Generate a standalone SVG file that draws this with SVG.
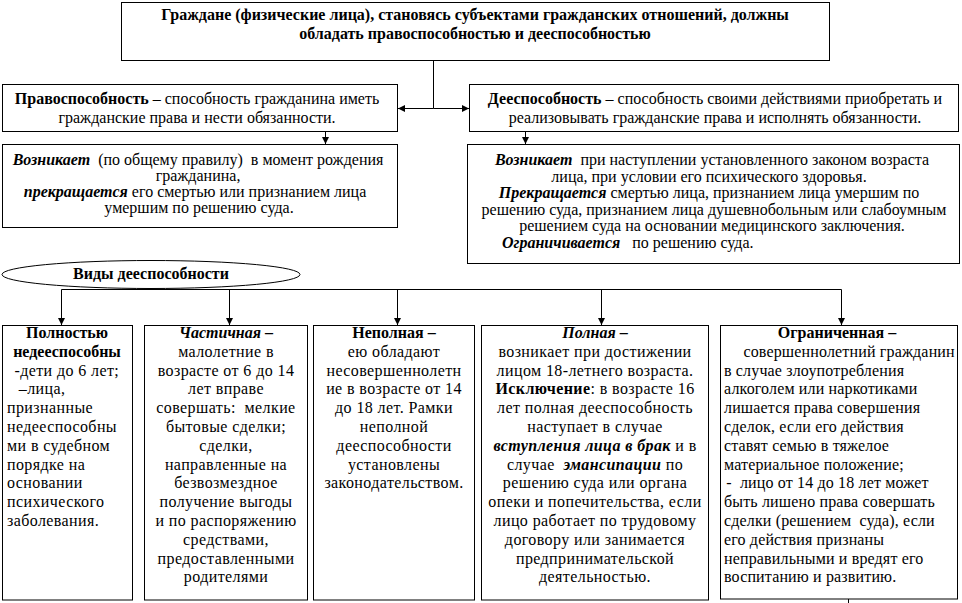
<svg xmlns="http://www.w3.org/2000/svg" width="962" height="603" viewBox="0 0 962 603" xml:space="preserve">
<style>
.box{fill:#fff;stroke:#000;stroke-width:1}
.t{font-family:"Liberation Serif","Times New Roman",serif;font-size:16px;fill:#000;white-space:pre}
.b{font-weight:bold}
.bi{font-weight:bold;font-style:italic}
.c{text-anchor:middle}
.s{letter-spacing:0.4px}
.s2{letter-spacing:0.15px}
.ln{fill:none;stroke:#000;stroke-width:1}
</style>
<defs>
<marker id="ar" markerUnits="userSpaceOnUse" markerWidth="8" markerHeight="8" refX="7" refY="4" orient="auto"><path d="M0,0.5 L7,4 L0,7.5 z" fill="#000"/></marker>
</defs>
<rect width="962" height="603" fill="#fff"/>
<g id="connectors">
<path class="ln" d="M433.5,60.5 V108.5"/>
<path class="ln" d="M433.5,108.5 H398" marker-end="url(#ar)"/>
<path class="ln" d="M433.5,108.5 H469" marker-end="url(#ar)"/>
<path class="ln" d="M325.5,132 V144" marker-end="url(#ar)"/>
<path class="ln" d="M525.5,132 V144" marker-end="url(#ar)"/>
<path class="ln" d="M61.5,289.5 H841.5"/>
<path class="ln" d="M61.5,289.5 V325" marker-end="url(#ar)"/>
<path class="ln" d="M229.5,289.5 V325" marker-end="url(#ar)"/>
<path class="ln" d="M397.5,289.5 V325" marker-end="url(#ar)"/>
<path class="ln" d="M601.5,289.5 V325" marker-end="url(#ar)"/>
<path class="ln" d="M841.5,289.5 V325" marker-end="url(#ar)"/>
<path class="ln" d="M848.5,599 V603"/>
</g>
<g id="title">
<rect class="box" x="121.5" y="2.5" width="708" height="58"/>
<text class="t b c" x="475" y="20">Граждане (физические лица), становясь субъектами гражданских отношений, должны</text>
<text class="t b c" x="475" y="39">обладать правоспособностью и дееспособностью</text>
</g>
<g id="pravosposobnost">
<rect class="box" x="2.5" y="84.5" width="395" height="47"/>
<text class="t c" x="197" y="104"><tspan class="b">Правоспособность</tspan> – способность гражданина иметь</text>
<text class="t c" x="197" y="123">гражданские права и нести обязанности.</text>
</g>
<g id="deesposobnost">
<rect class="box" x="469.5" y="84.5" width="489" height="47"/>
<text class="t c" x="715" y="104"><tspan class="b">Дееспособность</tspan> – способность своими действиями приобретать и</text>
<text class="t c" x="715" y="123">реализовывать гражданские права и исполнять обязанности.</text>
</g>
<g id="pravo-detail">
<rect class="box" x="2.5" y="144.5" width="395" height="83"/>
<text class="t c" x="198" y="165"><tspan class="bi">Возникает</tspan>  (по общему правилу)  в момент рождения</text>
<text class="t c" x="198" y="181">гражданина,</text>
<text class="t c" x="195" y="197"><tspan class="bi">прекращается</tspan> его смертью или признанием лица</text>
<text class="t c" x="199" y="213">умершим по решению суда.</text>
</g>
<g id="dee-detail">
<rect class="box" x="467.5" y="144.5" width="492" height="119"/>
<text class="t c" x="712" y="165"><tspan class="bi">Возникает</tspan>  при наступлении установленного законом возраста</text>
<text class="t c" x="709" y="181.5">лица, при условии его психического здоровья.</text>
<text class="t c" x="709" y="198"><tspan class="bi">Прекращается</tspan> смертью лица, признанием лица умершим по</text>
<text class="t c" x="714" y="214.5">решению суда, признанием лица душевнобольным или слабоумным</text>
<text class="t c" x="712" y="231">решением суда на основании медицинского заключения.</text>
<text class="t" x="490" y="247.5">   <tspan class="bi">Ограничивается</tspan>   по решению суда.</text>
</g>
<g id="vidy">
<ellipse class="box" cx="151" cy="274.5" rx="149" ry="14"/>
<text class="t b c" x="151" y="279">Виды дееспособности</text>
</g>
<g id="polnost-nedeesp">
<rect class="box" x="2.5" y="325.5" width="130" height="274.5"/>
<text class="t b c" x="67" y="338">Полностью</text>
<text class="t b c" x="67" y="357">недееспособны</text>
<text class="t s" x="10" y="376"> -дети до 6 лет;</text>
<text class="t s" x="10" y="394">  –лица,</text>
<text class="t s" x="7" y="413">признанные</text>
<text class="t s" x="7" y="432">недееспособны</text>
<text class="t s" x="7" y="451">ми в судебном</text>
<text class="t s" x="7" y="470">порядке на</text>
<text class="t s" x="7" y="488">основании</text>
<text class="t s" x="7" y="507">психического</text>
<text class="t s" x="7" y="526">заболевания.</text>
</g>
<g id="chastichnaya">
<rect class="box" x="144.5" y="325.5" width="163" height="274.5"/>
<text class="t c" x="226" y="338"><tspan class="bi">Частичная</tspan><tspan class="b"> –</tspan></text>
<text class="t s c" x="226" y="357">малолетние в</text>
<text class="t s c" x="226" y="376">возрасте от 6 до 14</text>
<text class="t s c" x="226" y="394">лет вправе</text>
<text class="t s c" x="226" y="413">совершать:  мелкие</text>
<text class="t s c" x="226" y="432">бытовые сделки;</text>
<text class="t s c" x="226" y="451">сделки,</text>
<text class="t s c" x="226" y="470">направленные на</text>
<text class="t s c" x="226" y="488">безвозмездное</text>
<text class="t s c" x="226" y="507">получение выгоды</text>
<text class="t s c" x="226" y="526">и по распоряжению</text>
<text class="t s c" x="226" y="545">средствами,</text>
<text class="t s c" x="226" y="564">предоставленными</text>
<text class="t s c" x="226" y="582">родителями</text>
</g>
<g id="nepolnaya">
<rect class="box" x="313.5" y="325.5" width="161" height="274.5"/>
<text class="t b c" x="394" y="338">Неполная –</text>
<text class="t s c" x="394" y="357">ею обладают</text>
<text class="t s c" x="394" y="376">несовершеннолетн</text>
<text class="t s c" x="394" y="394">ие в возрасте от 14</text>
<text class="t s c" x="394" y="413">до 18 лет. Рамки</text>
<text class="t s c" x="394" y="432">неполной</text>
<text class="t s c" x="394" y="451">дееспособности</text>
<text class="t s c" x="394" y="470">установлены</text>
<text class="t s c" x="394" y="488">законодательством.</text>
</g>
<g id="polnaya">
<rect class="box" x="481.5" y="325.5" width="227" height="274.5"/>
<text class="t c" x="595" y="338"><tspan class="bi">Полная</tspan><tspan class="b"> –</tspan></text>
<text class="t s c" x="595" y="357">возникает при достижении</text>
<text class="t s c" x="595" y="376">лицом 18-летнего возраста.</text>
<text class="t s c" x="595" y="394"><tspan class="b">Исключение</tspan>: в возрасте 16</text>
<text class="t s c" x="595" y="413">лет полная дееспособность</text>
<text class="t s c" x="595" y="432">наступает в случае</text>
<text class="t s c" x="595" y="451"><tspan class="bi">вступления лица в брак</tspan> и в</text>
<text class="t s c" x="595" y="470">случае  <tspan class="bi">эмансипации</tspan> по</text>
<text class="t s c" x="595" y="488">решению суда или органа</text>
<text class="t s c" x="595" y="507">опеки и попечительства, если</text>
<text class="t s c" x="595" y="526">лицо работает по трудовому</text>
<text class="t s c" x="595" y="545">договору или занимается</text>
<text class="t s c" x="595" y="564">предпринимательской</text>
<text class="t s c" x="595" y="582">деятельностью.</text>
</g>
<g id="ogranichennaya">
<rect class="box" x="720.5" y="325.5" width="237" height="273.5"/>
<text class="t b c" x="837" y="338">Ограниченная –</text>
<text class="t s2" x="731" y="357">   совершеннолетний гражданин</text>
<text class="t s2" x="724" y="376">в случае злоупотребления</text>
<text class="t s2" x="724" y="394">алкоголем или наркотиками</text>
<text class="t s2" x="724" y="413">лишается права совершения</text>
<text class="t s2" x="724" y="432">сделок, если его действия</text>
<text class="t s2" x="724" y="451">ставят семью в тяжелое</text>
<text class="t s2" x="724" y="470">материальное положение;</text>
<text class="t s2" x="722" y="488"> -  лицо от 14 до 18 лет может</text>
<text class="t s2" x="724" y="507">быть лишено права совершать</text>
<text class="t s2" x="724" y="526">сделки (решением  суда), если</text>
<text class="t s2" x="724" y="545">его действия признаны</text>
<text class="t s2" x="724" y="564">неправильными и вредят его</text>
<text class="t s2" x="724" y="582">воспитанию и развитию.</text>
</g>
</svg>
